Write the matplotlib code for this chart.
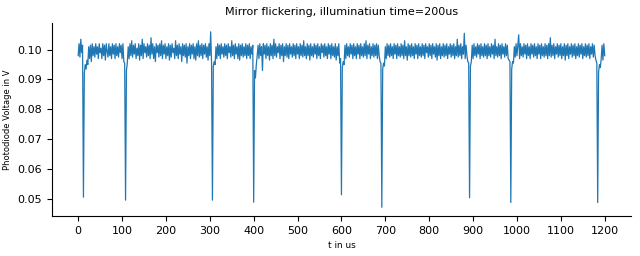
"""Photodiode trace of the mirror flicker measurement (illumination time 200 us)."""
import matplotlib
matplotlib.use("Agg")
import matplotlib.pyplot as plt
import numpy as np

sample_step_us = 2

# photodiode voltage in mV, one value per sample
voltage_mv = [
    98, 102, 97.5, 103.5, 99, 101.5, 50.5, 92, 95, 93.5, 96.5, 95, 101, 97, 101.5, 96, 102, 98, 101, 97.5,
    102, 98.5, 101, 97, 102, 99, 100.5, 97, 102, 98, 101.5, 96.5, 102, 99.5, 97.5, 102, 98, 101, 97, 102,
    98.5, 101.5, 97, 102, 98, 101, 97.5, 102, 99, 101.5, 97, 102, 96, 95.5, 49.5, 93, 95.5, 101, 97, 102,
    98, 103, 97.5, 101.5, 98.5, 102, 97, 100.5, 98, 102, 96.5, 101.5, 98, 103.5, 97, 102, 99, 101, 97.5, 102,
    98, 101.5, 97, 104, 98.5, 102, 97, 101, 96, 102, 99, 101.5, 97.5, 102, 98, 103, 97, 101.5, 98.5, 102,
    97, 101, 98, 102, 96.5, 101.5, 97.5, 102, 99, 100.5, 97, 103, 98, 101.5, 97, 102, 98.5, 101, 96, 102,
    98, 101.5, 97.5, 102, 95.5, 101, 98, 102, 97, 101.5, 98.5, 102, 97, 101, 96.5, 102, 98, 103, 97.5, 101.5,
    98, 102, 97, 101.5, 98.5, 102, 97.5, 101, 96.5, 102, 98, 106, 95.5, 49.5, 94.5, 96, 95, 101, 97, 102,
    98, 101.5, 97, 102, 98.5, 101, 97.5, 102, 98, 101.5, 97, 102, 99, 101, 97.5, 103, 98, 101.5, 97, 102,
    98.5, 101, 97, 102, 96.5, 101.5, 98, 102, 97.5, 101, 98, 102, 97, 101.5, 98, 102, 97, 101, 98.5, 101.5,
    48.8, 93, 90.5, 95, 98, 101.5, 97, 102, 98, 101, 93, 102, 98.5, 101.5, 97, 102, 98, 101, 96.5, 102,
    98, 101.5, 97, 103.5, 98, 102, 97.5, 101, 99, 102, 97, 101.5, 98, 102, 96, 101, 98, 102, 97.5, 101.5,
    97, 102, 98.5, 101, 97.5, 102, 98, 101.5, 97, 102, 98.5, 101, 97, 102, 98, 101.5, 97.5, 103, 98, 101,
    97, 102, 98, 101.5, 96.5, 102, 98, 101, 97.5, 102, 98.5, 101.5, 97, 102, 98, 101, 97, 102, 99, 101.5,
    97.5, 102, 98, 101, 97, 102, 98.5, 101.5, 97, 102, 98, 101, 97.5, 102, 96.5, 101, 98, 102, 95.5, 97,
    51.3, 94, 96, 95, 101.5, 97, 102, 98, 101, 97.5, 102, 98.5, 101.5, 97, 102, 98, 101, 97, 102, 98.5,
    101.5, 97, 102, 98, 101, 97.5, 102, 98, 103, 97, 101.5, 98.5, 102, 97, 101, 98, 102, 97.5, 101.5, 98,
    102, 97, 101.5, 98, 96, 95.5, 47.1, 93.5, 95.5, 94.5, 101, 97, 102, 98, 101.5, 97.5, 102, 98, 101, 97,
    102, 98.5, 101.5, 97, 102, 98, 101, 97.5, 102, 98, 101.5, 97, 103, 98, 101, 96.5, 102, 98, 101.5, 97.5,
    102, 98, 101, 97, 102, 98.5, 101.5, 97, 102, 98, 101, 97.5, 102, 98, 101.5, 97, 102, 99, 101, 97.5,
    102, 98, 101.5, 97, 102, 98.5, 101, 97.5, 102, 96.5, 101.5, 98, 102, 97, 101, 98, 102, 97.5, 101.5, 98,
    102, 97, 101, 98.5, 102, 97.5, 101.5, 98, 102, 97, 101, 98, 103.5, 97.5, 101.5, 98, 102, 97, 101, 98.5,
    105.5, 97, 101.5, 98, 96, 95.5, 50.3, 94.5, 96, 101.5, 97, 102, 98, 101, 97.5, 102, 98.5, 101.5, 97, 102,
    98, 101, 97.5, 102, 98, 101.5, 97, 102, 98, 101, 97.5, 102, 98.5, 101.5, 97, 103.5, 98, 101, 97.5, 102,
    98, 101.5, 97, 102, 98.5, 101, 97.5, 102, 98, 101.5, 97, 96.5, 96, 48.7, 93.5, 96, 95.5, 101, 97.5, 102,
    98, 101.5, 105, 97, 102, 98, 101, 97.5, 102, 98.5, 101.5, 97, 102, 98, 101, 97, 102, 98.5, 101.5, 97.5,
    102, 98, 101, 97, 102, 98.5, 101.5, 97, 102, 98, 101, 97.5, 102, 98, 101.5, 97, 102, 98, 104, 97.5,
    101.5, 98, 102, 97, 101, 98.5, 102, 97.5, 101.5, 98, 102, 97, 101, 98, 102, 96.5, 101.5, 98, 102, 97,
    101, 98.5, 102, 97.5, 101.5, 98, 102, 97, 101, 98, 102, 97.5, 101.5, 98.5, 102, 97, 101, 98, 102, 97.5,
    101.5, 98, 102, 97, 101, 98.5, 102, 97.5, 101.5, 98, 96.5, 95.5, 48.7, 92.5, 95, 94, 97, 101.5, 96.5, 102,
    98,
]

x_ticks = [0, 100, 200, 300, 400, 500, 600, 700, 800, 900, 1000, 1100, 1200]

voltage = np.asarray(voltage_mv) / 1000.0
t_us = np.arange(len(voltage)) * sample_step_us

fig = plt.figure(figsize=(6.4, 2.56), dpi=100)
ax = fig.add_axes([0.081, 0.156, 0.905, 0.754])
ax.plot(t_us, voltage, color="#1f77b4", linewidth=0.9)

ax.set_title("Mirror flickering, illuminatiun time=200us", fontsize=8)
ax.set_xlabel("t in us", fontsize=6.4)
ax.set_ylabel("Photodiode Voltage in V", fontsize=6)
ax.set_xticks(x_ticks)
ax.tick_params(labelsize=8)
ax.spines["top"].set_visible(False)
ax.spines["right"].set_visible(False)

fig.savefig("out.png", dpi=100, facecolor="white")
